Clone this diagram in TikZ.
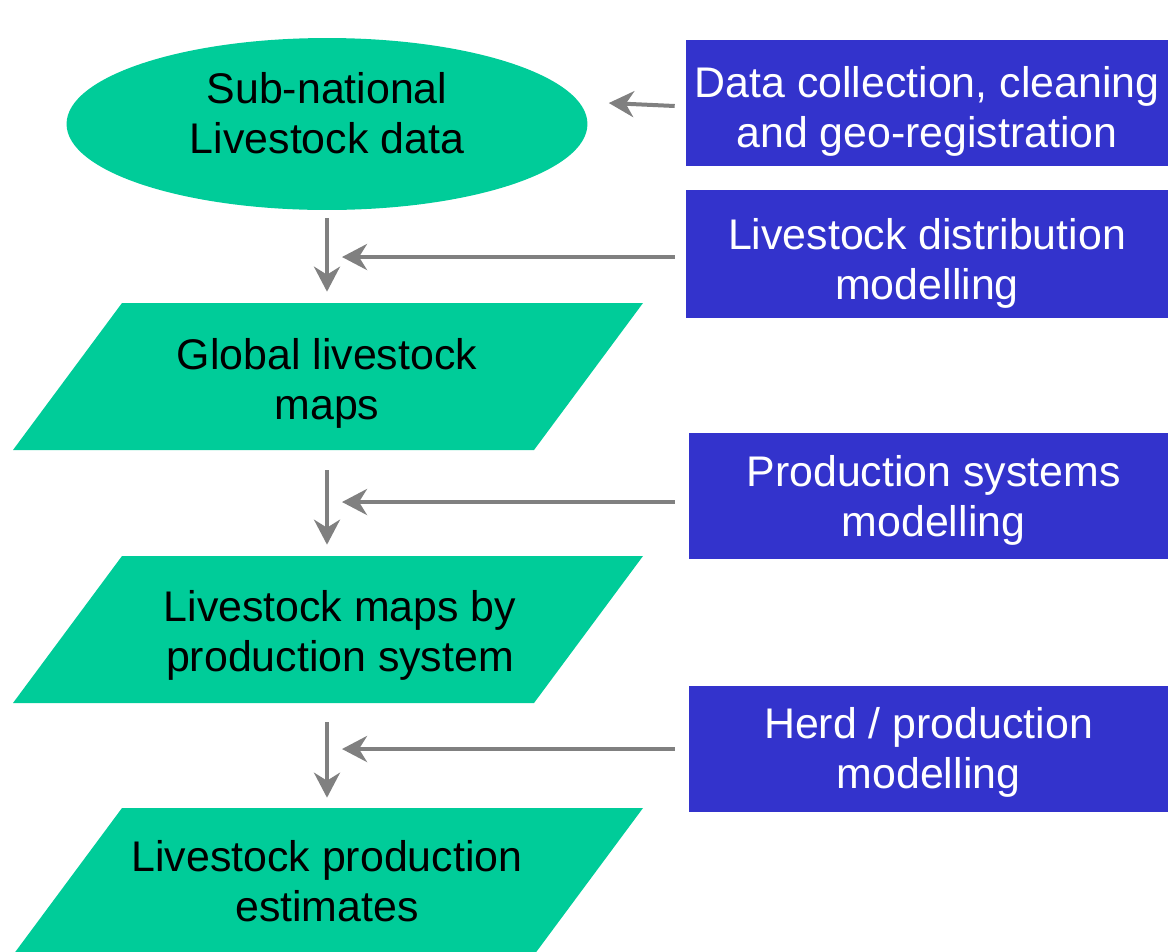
\documentclass[tikz,border=0pt]{standalone}
\usepackage{fontspec}
\setmainfont{Liberation Sans}
\usetikzlibrary{shapes.geometric,arrows.meta}

\begin{document}
\begin{tikzpicture}[x=0.02cm,y=-0.02cm,
% Styles
stagetext/.style={text=black,align=center,inner sep=0pt,font=\fontsize{24.4}{28.5}\selectfont},
tasktext/.style={text=white,align=center,inner sep=0pt,font=\fontsize{24.4}{28.5}\selectfont},
stage/.style={fill=stagecolor,inner sep=0pt},
product/.style={inner sep=0pt,minimum width=10.42cm,minimum height=2.94cm},
task/.style={fill=taskcolor,inner sep=0pt,minimum height=2.52cm},
flow/.style={draw=flowcolor,line width=0.08cm,-{Stealth[length=0.5cm,width=0.52cm,inset=0.16cm]}}]
% Colors
\definecolor{stagecolor}{HTML}{00CC99}
\definecolor{taskcolor}{HTML}{3333CC}
\definecolor{flowcolor}{HTML}{808080}
\useasboundingbox (0,0) rectangle (1168,951);
% Parallelogram backgrounds of the map products
\foreach \y in {303,556,808}
  \fill[stagecolor] (122,\y) -- ++(521,0) -- ++(-109,147) -- ++(-521,0) -- cycle;
% Data products (left column)
\node[stage,ellipse,minimum width=10.42cm,minimum height=3.44cm,
  label={[stagetext,yshift=0.22cm]center:{Sub-national\\Livestock data}}] (subnat) at (327,124) {};
\node[product,label={[stagetext,yshift=-0.14cm]center:{Global livestock\\maps}}] (global) at (327,376.5) {};
\node[product,label={[stagetext,xshift=0.26cm,yshift=-0.12cm]center:{Livestock maps by\\production system}}] (bysystem) at (327,629.5) {};
\node[product,label={[stagetext]center:{Livestock production\\estimates}}] (estimates) at (327,881.5) {};
% Processing steps (right column)
\node[task,minimum width=9.64cm,
  label={[tasktext,yshift=-0.16cm]center:{Data collection, cleaning\\and geo-registration}}] (collect) at (927,103) {};
\node[task,minimum width=9.64cm,minimum height=2.56cm,
  label={[tasktext,yshift=-0.18cm]center:{Livestock distribution\\modelling}}] (distrib) at (927,254) {};
\node[task,minimum width=9.58cm,
  label={[tasktext,xshift=0.1cm,yshift=-0.08cm]center:{Production systems\\modelling}}] (prodsys) at (928.5,496) {};
\node[task,minimum width=9.58cm,
  label={[tasktext,yshift=-0.06cm]center:{Herd / production\\modelling}}] (herd) at (928.5,749) {};
% Main chain
\draw[flow,shorten <=0.16cm,shorten >=0.22cm] (subnat.south) -- (global.north);
\draw[flow,shorten <=0.4cm,shorten >=0.22cm] (global.south) -- (bysystem.north);
\draw[flow,shorten <=0.38cm,shorten >=0.2cm] (bysystem.south) -- (estimates.north);
% Inputs from the steps
\draw[flow] ([xshift=-0.22cm,yshift=-0.06cm]collect.west) -- ([shift={(0.42cm,0.42cm)}]subnat.east);
\draw[flow] ([xshift=-0.22cm,yshift=-0.06cm]distrib.west) -- ([xshift=0.3cm,yshift=-0.06cm]distrib.west -| global.north);
\draw[flow] ([xshift=-0.28cm,yshift=-0.12cm]prodsys.west) -- ([xshift=0.3cm,yshift=-0.12cm]prodsys.west -| bysystem.north);
\draw[flow] ([xshift=-0.28cm]herd.west) -- ([xshift=0.3cm]herd.west -| estimates.north);
\end{tikzpicture}
\end{document}
